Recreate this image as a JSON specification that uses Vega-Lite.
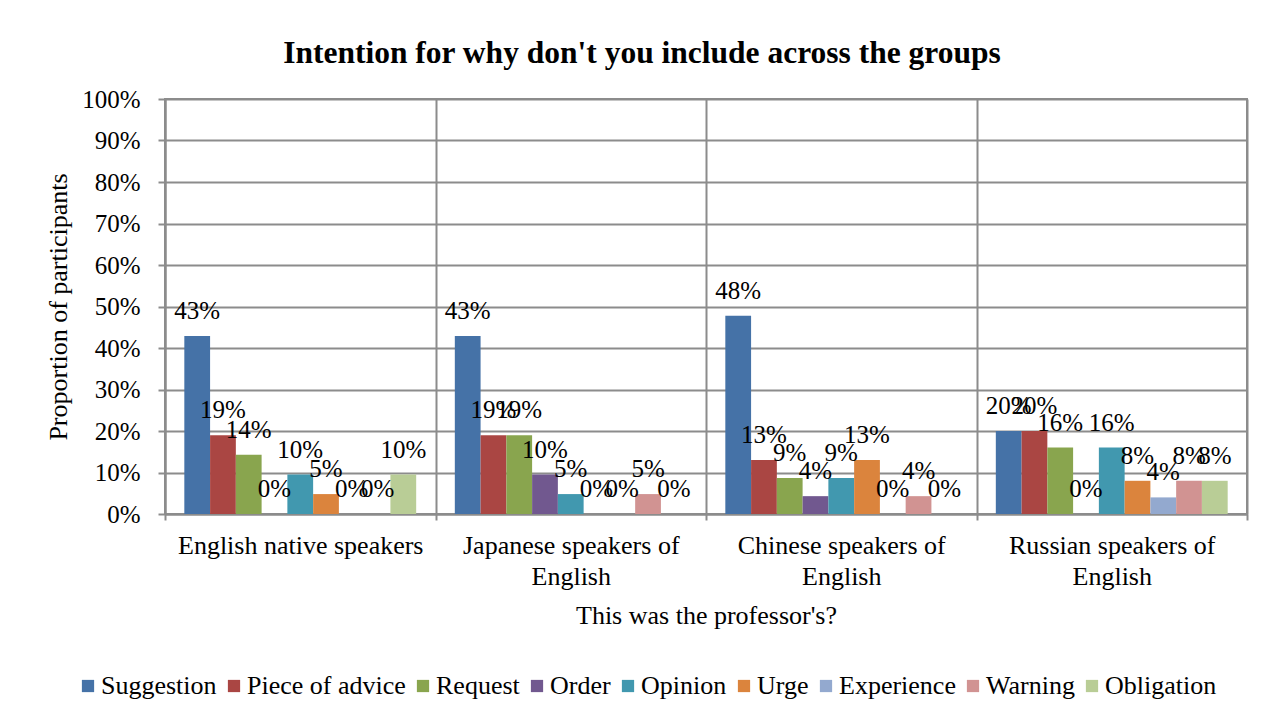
{
  "$schema": "https://vega.github.io/schema/vega-lite/v6.json",
  "width": 1082,
  "height": 415,
  "padding": {"left": 45, "top": 37, "right": 22, "bottom": 10},
  "background": "white",
  "title": {
    "text": "Intention for why don't you include across the groups",
    "font": "Liberation Serif",
    "fontSize": 31.5,
    "fontWeight": "bold",
    "color": "black",
    "anchor": "middle",
    "dx": -64,
    "offset": 18
  },
  "data": {
    "values": [
      {"group": "English native speakers", "intent": "Suggestion", "value": 0.429},
      {"group": "English native speakers", "intent": "Piece of advice", "value": 0.190},
      {"group": "English native speakers", "intent": "Request", "value": 0.143},
      {"group": "English native speakers", "intent": "Order", "value": 0},
      {"group": "English native speakers", "intent": "Opinion", "value": 0.095},
      {"group": "English native speakers", "intent": "Urge", "value": 0.048},
      {"group": "English native speakers", "intent": "Experience", "value": 0},
      {"group": "English native speakers", "intent": "Warning", "value": 0},
      {"group": "English native speakers", "intent": "Obligation", "value": 0.095},
      {"group": "Japanese speakers of|English", "intent": "Suggestion", "value": 0.429},
      {"group": "Japanese speakers of|English", "intent": "Piece of advice", "value": 0.190},
      {"group": "Japanese speakers of|English", "intent": "Request", "value": 0.190},
      {"group": "Japanese speakers of|English", "intent": "Order", "value": 0.095},
      {"group": "Japanese speakers of|English", "intent": "Opinion", "value": 0.048},
      {"group": "Japanese speakers of|English", "intent": "Urge", "value": 0},
      {"group": "Japanese speakers of|English", "intent": "Experience", "value": 0},
      {"group": "Japanese speakers of|English", "intent": "Warning", "value": 0.048},
      {"group": "Japanese speakers of|English", "intent": "Obligation", "value": 0},
      {"group": "Chinese speakers of|English", "intent": "Suggestion", "value": 0.478},
      {"group": "Chinese speakers of|English", "intent": "Piece of advice", "value": 0.130},
      {"group": "Chinese speakers of|English", "intent": "Request", "value": 0.087},
      {"group": "Chinese speakers of|English", "intent": "Order", "value": 0.043},
      {"group": "Chinese speakers of|English", "intent": "Opinion", "value": 0.087},
      {"group": "Chinese speakers of|English", "intent": "Urge", "value": 0.130},
      {"group": "Chinese speakers of|English", "intent": "Experience", "value": 0},
      {"group": "Chinese speakers of|English", "intent": "Warning", "value": 0.043},
      {"group": "Chinese speakers of|English", "intent": "Obligation", "value": 0},
      {"group": "Russian speakers of|English", "intent": "Suggestion", "value": 0.20},
      {"group": "Russian speakers of|English", "intent": "Piece of advice", "value": 0.20},
      {"group": "Russian speakers of|English", "intent": "Request", "value": 0.16},
      {"group": "Russian speakers of|English", "intent": "Order", "value": 0},
      {"group": "Russian speakers of|English", "intent": "Opinion", "value": 0.16},
      {"group": "Russian speakers of|English", "intent": "Urge", "value": 0.08},
      {"group": "Russian speakers of|English", "intent": "Experience", "value": 0.04},
      {"group": "Russian speakers of|English", "intent": "Warning", "value": 0.08},
      {"group": "Russian speakers of|English", "intent": "Obligation", "value": 0.08}
    ]
  },
  "encoding": {
    "x": {
      "field": "group",
      "type": "nominal",
      "sort": null,
      "scale": {"paddingInner": 0, "paddingOuter": 0},
      "axis": {
        "title": "This was the professor's?",
        "titleFont": "Liberation Serif",
        "titleFontSize": 26,
        "titleFontWeight": "normal",
        "titleColor": "black",
        "titlePadding": 13,
        "labelFont": "Liberation Serif",
        "labelFontSize": 26,
        "labelColor": "black",
        "labelAngle": 0,
        "labelPadding": 12,
        "labelLimit": 0,
        "labelLineHeight": 31,
        "labelExpr": "split(datum.label, '|')",
        "tickBand": "extent",
        "grid": true,
        "gridColor": "#8c8c8c",
        "gridWidth": 2,
        "domainColor": "#8c8c8c",
        "domainWidth": 2,
        "tickColor": "#8c8c8c",
        "tickWidth": 2,
        "tickSize": 6
      }
    },
    "xOffset": {
      "field": "intent",
      "type": "nominal",
      "sort": ["Suggestion", "Piece of advice", "Request", "Order", "Opinion", "Urge", "Experience", "Warning", "Obligation"],
      "scale": {"paddingInner": 0, "paddingOuter": 0.75}
    },
    "y": {
      "field": "value",
      "type": "quantitative",
      "scale": {"domain": [0, 1], "nice": false},
      "axis": {
        "title": "Proportion of participants",
        "titleFont": "Liberation Serif",
        "titleFontSize": 26,
        "titleFontWeight": "normal",
        "titleColor": "black",
        "titlePadding": 10,
        "format": ".0%",
        "values": [0, 0.1, 0.2, 0.3, 0.4, 0.5, 0.6, 0.7, 0.8, 0.9, 1],
        "labelFont": "Liberation Serif",
        "labelFontSize": 25,
        "labelColor": "black",
        "labelPadding": 18,
        "grid": true,
        "gridColor": "#8c8c8c",
        "gridWidth": 2,
        "domainColor": "#8c8c8c",
        "domainWidth": 2,
        "tickColor": "#8c8c8c",
        "tickWidth": 2,
        "tickSize": 7
      }
    }
  },
  "layer": [
    {
      "mark": {"type": "bar"},
      "encoding": {
        "color": {
          "field": "intent",
          "type": "nominal",
          "scale": {
            "domain": ["Suggestion", "Piece of advice", "Request", "Order", "Opinion", "Urge", "Experience", "Warning", "Obligation"],
            "range": ["#4572A7", "#AA4643", "#89A54E", "#71588F", "#4198AF", "#DB843D", "#93A9CF", "#D19392", "#B9CD96"]
          },
          "legend": {
            "title": null,
            "orient": "none",
            "direction": "horizontal",
            "columns": 9,
            "legendX": -90,
            "legendY": 574,
            "symbolType": "square",
            "symbolSize": 150,
            "symbolStrokeWidth": 0,
            "labelFont": "Liberation Serif",
            "labelFontSize": 26,
            "labelColor": "black",
            "labelLimit": 0,
            "labelOffset": 0,
            "columnPadding": 4
          }
        }
      }
    },
    {
      "mark": {"type": "text", "font": "Liberation Serif", "fontSize": 25, "color": "black", "baseline": "alphabetic", "dy": -17},
      "encoding": {
        "text": {"field": "value", "type": "quantitative", "format": ".0%"}
      }
    }
  ],
  "config": {
    "font": "Liberation Serif",
    "view": {"stroke": "#8c8c8c", "strokeWidth": 2},
    "axis": {"gridOpacity": 1}
  }
}
